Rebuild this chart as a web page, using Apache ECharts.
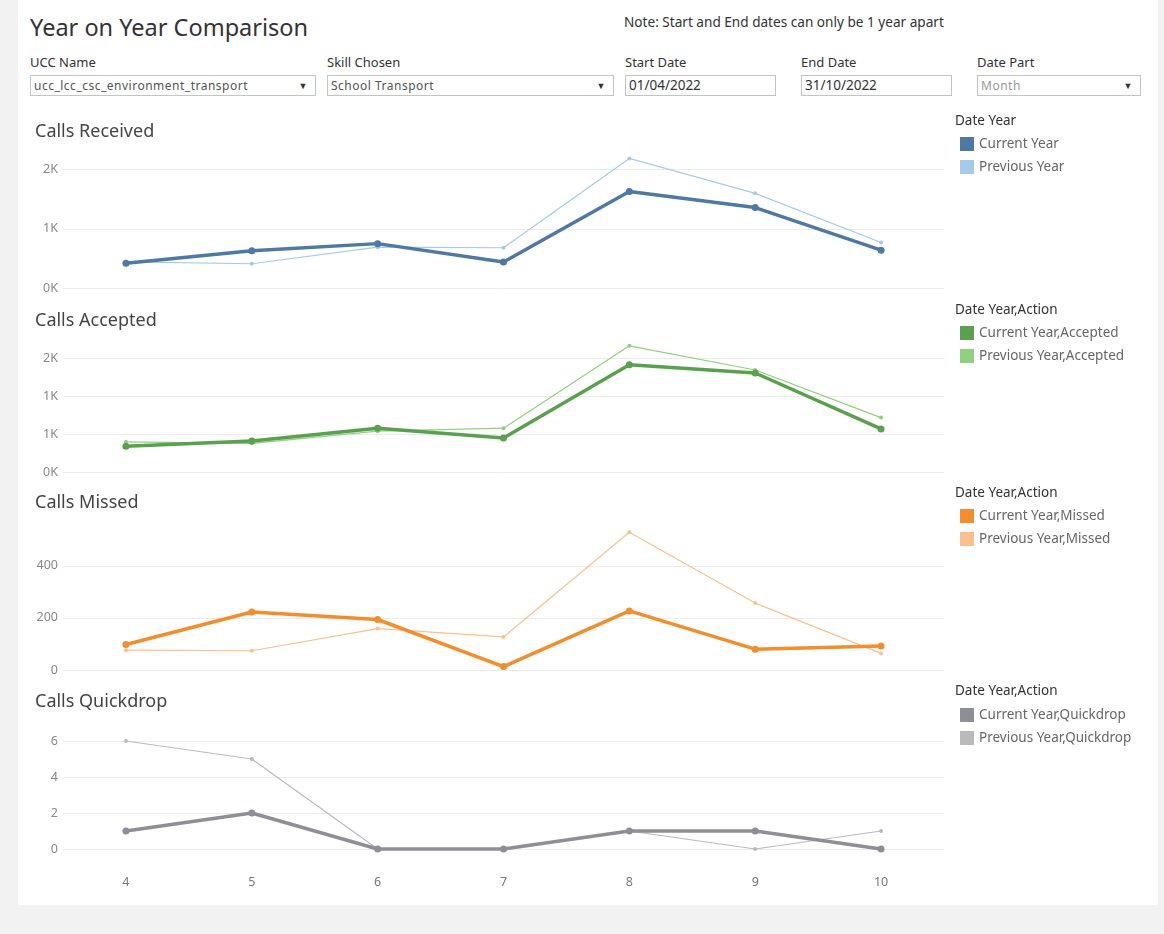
<!DOCTYPE html>
<html>
<head>
<meta charset="utf-8">
<title>Year on Year Comparison</title>
<script src="https://cdn.jsdelivr.net/npm/echarts@6/dist/echarts.min.js"></script>
<style>
  html, body { margin: 0; padding: 0; }
  body {
    width: 1164px; height: 934px; position: relative; overflow: hidden;
    background: #f2f2f2; font-family: "Noto Sans", "Open Sans", sans-serif; color: #333;
  }
  .sheet { position: absolute; left: 18px; top: 0; width: 1140px; height: 905px; background: #fff; }
  .title { position: absolute; left: 30px; top: 11px; font-size: 23.5px; color: #333; }
  .note { position: absolute; left: 624px; top: 12px; font-size: 13.6px; color: #333; }
  .flabel { position: absolute; top: 53px; font-size: 13px; color: #333; }
  .fbox {
    position: absolute; top: 75px; height: 21px; box-sizing: border-box;
    border: 1px solid #c4c4c4; font-size: 12px; letter-spacing: 0.5px; color: #555; line-height: 19px;
    padding-left: 3px; background: #fff;
  }
  .fbox .arr { position: absolute; right: 7px; top: 0; font-size: 9px; color: #333; }
  #chart { position: absolute; left: 0; top: 0; width: 1164px; height: 934px; }
</style>
</head>
<body>
<div class="sheet"></div>
<div class="title">Year on Year Comparison</div>
<div class="note">Note: Start and End dates can only be 1 year apart</div>

<div class="flabel" style="left:30px">UCC Name</div>
<div class="fbox" style="left:30px;width:286px">ucc_lcc_csc_environment_transport<span class="arr">&#9660;</span></div>
<div class="flabel" style="left:327px">Skill Chosen</div>
<div class="fbox" style="left:327px;width:287px">School Transport<span class="arr">&#9660;</span></div>
<div class="flabel" style="left:625px">Start Date</div>
<div class="fbox" style="left:625px;width:151px;font-size:13.5px;letter-spacing:0;color:#333">01/04/2022</div>
<div class="flabel" style="left:801px">End Date</div>
<div class="fbox" style="left:801px;width:151px;font-size:13.5px;letter-spacing:0;color:#333">31/10/2022</div>
<div class="flabel" style="left:977px">Date Part</div>
<div class="fbox" style="left:977px;width:164px;color:#999">Month<span class="arr">&#9660;</span></div>

<div id="chart"></div>

<script>
  // month numbers on the shared x axis
  const months = ['4', '5', '6', '7', '8', '9', '10']

  const receivedCurrent = [420, 630, 750, 440, 1630, 1360, 640]
  const receivedPrevious = [440, 410, 690, 680, 2190, 1600, 770]

  const acceptedCurrent = [340, 410, 580, 450, 1420, 1310, 570]
  const acceptedPrevious = [400, 380, 540, 580, 1670, 1350, 720]

  const missedCurrent = [98, 223, 194, 13, 227, 80, 92]
  const missedPrevious = [76, 74, 159, 127, 529, 257, 64]

  const quickdropCurrent = [1, 2, 0, 0, 1, 1, 0]
  const quickdropPrevious = [6, 5, 0, 0, 1, 0, 1]

  const FONT = '"Noto Sans", "Open Sans", sans-serif'
  const GRID_LINE = '#ececec'
  const LABEL = '#888'

  // page-pixel boxes of the four panes
  const panes = [
    { top: 146, bottom: 288 },
    { top: 336, bottom: 472 },
    { top: 519, bottom: 670 },
    { top: 723, bottom: 867 }
  ]

  const kFormat = function(v) {
    return Math.round(v / 1000) + 'K'
  }

  function lineSeries(name, data, idx, color, current) {
    return {
      name: name,
      type: 'line',
      xAxisIndex: idx,
      yAxisIndex: idx,
      data: data,
      symbol: 'circle',
      symbolSize: current ? 7 : 4,
      z: current ? 3 : 2,
      itemStyle: { color: color },
      lineStyle: { color: color, width: current ? 3.5 : 1.2 },
      emphasis: { disabled: true }
    }
  }

  function yAxis(idx, min, max, interval, formatter, extra) {
    const ax = {
      type: 'value',
      gridIndex: idx,
      min: min,
      max: max,
      interval: interval,
      axisLine: { show: false },
      axisTick: { show: false },
      splitLine: { show: true, showMaxLine: false, lineStyle: { color: GRID_LINE, width: 1 } },
      axisLabel: {
        showMaxLabel: false,
        color: LABEL,
        fontSize: 12.5,
        fontFamily: FONT,
        margin: 5,
        formatter: formatter
      }
    }
    return Object.assign(ax, extra || {})
  }

  function xAxis(idx, show) {
    return {
      type: 'category',
      gridIndex: idx,
      data: months,
      boundaryGap: true,
      axisLine: { show: show, lineStyle: { color: '#ececec' } },
      axisTick: { show: false },
      axisLabel: { show: show, color: '#777', fontSize: 12.5, fontFamily: FONT, margin: 9 },
      splitLine: { show: false }
    }
  }

  const titleStyle = { fontSize: 18, fontWeight: 'normal', color: '#444', fontFamily: FONT }
  const headStyle = { fontSize: 13.5, fontWeight: 'normal', color: '#333', fontFamily: FONT }

  function legend(top, names) {
    return {
      left: 955,
      top: top,
      orient: 'vertical',
      icon: 'rect',
      itemWidth: 14,
      itemHeight: 14,
      itemGap: 9,
      selectedMode: false,
      textStyle: { fontSize: 13.5, color: '#666', fontFamily: FONT },
      data: names
    }
  }

  const option = {
    animation: false,
    title: [
      { text: 'Calls Received', left: 30, top: 118, textStyle: titleStyle },
      { text: 'Calls Accepted', left: 30, top: 307, textStyle: titleStyle },
      { text: 'Calls Missed', left: 30, top: 489, textStyle: titleStyle },
      { text: 'Calls Quickdrop', left: 30, top: 688, textStyle: titleStyle },
      { text: 'Date Year', left: 950, top: 109, textStyle: headStyle },
      { text: 'Date Year,Action', left: 950, top: 298, textStyle: headStyle },
      { text: 'Date Year,Action', left: 950, top: 481, textStyle: headStyle },
      { text: 'Date Year,Action', left: 950, top: 679, textStyle: headStyle }
    ],
    legend: [
      legend(132, ['Current Year', 'Previous Year']),
      legend(321, ['Current Year,Accepted', 'Previous Year,Accepted']),
      legend(504, ['Current Year,Missed', 'Previous Year,Missed']),
      legend(703, ['Current Year,Quickdrop', 'Previous Year,Quickdrop'])
    ],
    grid: panes.map(function(p) {
      return { left: 63, right: 220, top: p.top, height: p.bottom - p.top, containLabel: false }
    }),
    xAxis: [xAxis(0, false), xAxis(1, false), xAxis(2, false), xAxis(3, true)],
    yAxis: [
      yAxis(0, 0, 2400, 1000, kFormat),
      yAxis(1, 0, 1800, 500, kFormat),
      yAxis(2, 0, 580, 200, null),
      yAxis(3, -1, 7, 1, function(v) {
        return (v >= 0 && v % 2 === 0) ? String(v) : ''
      }, {
        splitLine: { show: true, lineStyle: { color: ['rgba(0,0,0,0)', GRID_LINE], width: 1 } }
      })
    ],
    series: [
      lineSeries('Previous Year', receivedPrevious, 0, '#a6cbe8', false),
      lineSeries('Current Year', receivedCurrent, 0, '#4e79a7', true),
      lineSeries('Previous Year,Accepted', acceptedPrevious, 1, '#8fd17f', false),
      lineSeries('Current Year,Accepted', acceptedCurrent, 1, '#59a14f', true),
      lineSeries('Previous Year,Missed', missedPrevious, 2, '#fbc08c', false),
      lineSeries('Current Year,Missed', missedCurrent, 2, '#f28e2b', true),
      lineSeries('Previous Year,Quickdrop', quickdropPrevious, 3, '#bababa', false),
      lineSeries('Current Year,Quickdrop', quickdropCurrent, 3, '#8e8f96', true)
    ]
  }

  const chart = echarts.init(document.getElementById('chart'))
  chart.setOption(option)
</script>
</body>
</html>
